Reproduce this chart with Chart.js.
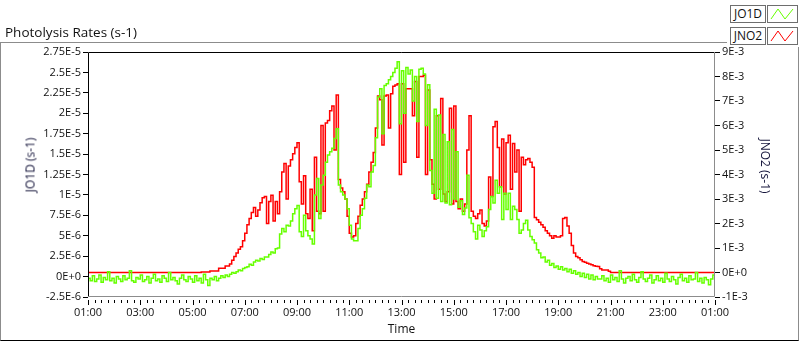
<!DOCTYPE html>
<html>
<head>
<meta charset="utf-8">
<script src="https://cdn.jsdelivr.net/npm/chart.js@4.4.0/dist/chart.umd.min.js"></script>
<style>
    html, body { margin: 0; padding: 0; background: #fff; }
    #wrap { position: relative; width: 800px; height: 342px; overflow: hidden; font-family: 'Open Sans', sans-serif; color: #111; }
    #frame { position: absolute; left: 0; top: 42px; width: 799px; height: 299px; box-sizing: border-box; border: 1px solid #8c8c8c; border-bottom-color: #000; }
    #chart { position: absolute; left: 0; top: 0; }
    #title { position: absolute; left: 5px; top: 23px; font-size: 13.5px; white-space: nowrap; }
    .ytitle { position: absolute; font-size: 12px; white-space: nowrap; color: #14143a; }
    #legend { position: absolute; left: 727px; top: 0; width: 73px; height: 47px; background: #fff; }
    .lbox { position: absolute; height: 18px; box-sizing: border-box; border: 1px solid #6e6e6e; background: #fff; font-size: 12px; line-height: 16px; text-align: center; }
</style>
</head>
<body>
<div id="wrap">
    <div id="frame"></div>
    <canvas id="chart" width="800" height="342"></canvas>
    <div id="title">Photolysis Rates (s-1)</div>
    <div class="ytitle" style="left:30px; top:165px; transform: translate(-50%, -50%) rotate(-90deg);">JO1D (s-1)</div>
    <div class="ytitle" style="left:765px; top:166px; transform: translate(-50%, -50%) rotate(90deg);">JNO2 (s-1)</div>
    <div id="legend">
        <div class="lbox" style="left:3px; top:5px; width:36px;">JO1D</div>
        <div class="lbox" style="left:40px; top:5px; width:31px;">
            <svg width="29" height="16"><polyline points="3,13 10,3 17,13 25,3" fill="none" stroke="#66ff00" stroke-width="1"/></svg>
        </div>
        <div class="lbox" style="left:3px; top:27px; width:36px;">JNO2</div>
        <div class="lbox" style="left:40px; top:27px; width:31px;">
            <svg width="29" height="16"><polyline points="3,13 10,3 17,13 25,3" fill="none" stroke="#ff0000" stroke-width="1"/></svg>
        </div>
    </div>
</div>
<script>
// one sample every 5 minutes, starting at 01:00 and ending at 01:00 the next day
const stepMinutes = 5;

const timeLabels = ['01:00', '03:00', '05:00', '07:00', '09:00', '11:00', '13:00',
    '15:00', '17:00', '19:00', '21:00', '23:00', '01:00'];
const jo1dTicks = ['-2.5E-6', '0E+0', '2.5E-6', '5E-6', '7.5E-6', '1E-5', '1.25E-5',
    '1.5E-5', '1.75E-5', '2E-5', '2.25E-5', '2.5E-5', '2.75E-5'];
const jno2Ticks = ['-1E-3', '0E+0', '1E-3', '2E-3', '3E-3', '4E-3', '5E-3', '6E-3', '7E-3', '8E-3', '9E-3'];

// JO1D in units of 1E-6 s-1, one row per hour
const jo1d = [
    -0.2, -0.5, 0.1, -0.6, -0.3, 0.2, -0.7, -0.1, -0.4, 0.6, -0.5, -0.2,
    -0.8, 0.0, -0.3, -0.6, 0.1, -0.4, -0.2, 0.7, -0.5, -0.7, -0.1, -0.3,
    0.2, -0.6, -0.4, 0.0, -0.8, -0.2, 0.3, -0.5, -0.3, -0.7, 0.1, -0.2,
    -0.6, 0.5, -0.4, -0.1, -0.5, -0.9, -0.2, 0.2, -0.4, -0.6, 0.0, -0.3,
    -0.7, 0.1, -0.5, -0.2, -0.8, 0.3, -0.4, -1.1, -0.2, -0.4, 0.0, -0.5,
    -0.2, 0.1, -0.1, 0.2, 0.0, 0.3, 0.5, 0.4, 0.6, 0.8, 0.7, 1.0,
    1.1, 1.2, 1.5, 1.4, 1.8, 2.0, 1.9, 2.2, 2.1, 2.4, 2.4, 2.7,
    3.0, 2.9, 3.4, 3.5, 5.2, 5.9, 5.5, 6.3, 6.2, 6.8, 7.7, 8.3,
    8.7, 5.5, 4.9, 7.5, 5.6, 5.0, 4.6, 4.0, 10.0, 12.0, 7.1, 11.2,
    12.4, 14.0, 14.9, 15.3, 15.7, 16.9, 18.1, 11.2, 10.4, 10.0, 9.5, 8.3,
    6.3, 4.6, 4.4, 4.4, 5.9, 7.5, 8.3, 9.6, 11.2, 11.0, 12.8, 13.6,
    17.0, 22.0, 23.0, 17.5, 23.4, 23.6, 24.1, 24.5, 25.0, 25.5, 26.3, 18.7,
    25.2, 20.0, 25.6, 24.8, 25.3, 21.5, 24.5, 19.0, 25.4, 25.5, 24.8, 18.5,
    23.5, 13.0, 10.2, 20.5, 9.6, 19.8, 9.2, 17.4, 9.0, 16.5, 8.8, 18.0,
    9.5, 15.3, 8.5, 9.3, 7.6, 8.4, 12.4, 7.2, 6.5, 5.5, 4.6, 6.3,
    5.7, 4.9, 5.6, 6.1, 8.2, 9.8, 9.0, 11.8, 10.2, 11.0, 7.0, 10.2,
    8.2, 10.2, 7.0, 8.6, 8.2, 7.0, 5.3, 5.7, 6.5, 6.9, 5.7, 4.9,
    4.5, 4.1, 3.3, 2.9, 2.3, 2.4, 1.8, 2.0, 1.4, 1.6, 1.1, 1.3,
    0.9, 1.2, 0.8, 1.0, 0.6, 0.9, 0.4, 0.7, 0.3, 0.5, 0.0, 0.4,
    -0.1, 0.3, -0.3, 0.2, -0.4, 0.0, -0.3, -0.3, 0.1, -0.5, -0.2, -0.7,
    0.2, -0.4, -0.1, -0.6, 0.7, -0.3, -0.8, -0.2, 0.0, -0.5, 0.3, -0.4,
    -0.7, -0.1, 0.6, -0.3, -0.6, -0.2, 0.2, -0.8, -0.4, 0.1, -0.5, -0.2,
    -0.7, 0.4, -0.3, -0.6, 0.0, -0.4, -0.9, -0.1, 0.3, -0.5, -0.2, -0.7,
    0.1, -0.4, -0.3, 0.5, -0.6, -0.2, -0.8, -0.1, -0.4, -1.0, -0.3, 0.2,
    -0.5
];

// JNO2 in units of 1E-3 s-1, one row per hour
const jno2 = [
    0, 0, 0, 0, 0, 0, 0, 0, 0, 0, 0, 0,
    0, 0, 0, 0, 0, 0, 0, 0, 0, 0, 0, 0,
    0, 0, 0, 0, 0, 0, 0, 0, 0, 0, 0, 0,
    0, 0, 0, 0, 0, 0, 0, 0, 0, 0, 0, 0,
    0, 0, 0, 0, 0.02, 0.02, 0.02, 0.02, 0.06, 0.06, 0.06, 0.06,
    0.17, 0.17, 0.17, 0.27, 0.27, 0.35, 0.5, 0.65, 0.8, 0.95, 1.05, 1.3,
    1.6, 1.95, 2.2, 2.45, 2.65, 2.3, 2.55, 2.85, 3.05, 3.1, 2.0, 2.9,
    3.15, 2.1, 2.9, 2.4, 3.3, 4.1, 4.45, 3.0, 4.35, 4.6, 4.85, 5.1,
    5.3, 3.7, 2.8, 3.95, 2.4, 2.2, 3.4, 1.7, 4.7, 2.5, 2.4, 6.0,
    2.5, 6.1, 6.2, 6.6, 6.8, 5.0, 7.25, 3.8, 3.45, 3.3, 3.0, 2.3,
    1.6, 1.45, 1.5, 2.0, 2.3, 2.75, 3.0, 3.3, 3.6, 4.1, 4.5, 4.9,
    5.9, 7.2, 7.05, 5.2, 7.2, 7.25, 5.9, 7.3, 7.6, 7.65, 7.7, 4.0,
    7.7, 4.5, 7.5, 7.5, 7.5, 6.4, 7.8, 4.7, 8.0, 8.0, 8.05, 4.0,
    7.45, 4.6, 3.6, 3.0, 6.4, 3.4, 7.1, 3.2, 2.9, 3.3, 6.7, 2.8,
    6.8, 2.9, 2.6, 3.0, 2.5, 2.8, 5.0, 6.4, 2.5, 2.3, 2.2, 2.4,
    2.55, 2.0, 1.9, 2.1, 3.9, 3.1, 5.95, 6.16, 5.1, 3.5, 5.45, 3.2,
    5.3, 5.6, 3.4, 5.27, 4.1, 5.0, 2.5, 4.7, 4.4, 4.6, 4.65, 4.5,
    4.3, 2.25, 2.15, 2.05, 1.95, 1.85, 1.7, 1.6, 1.5, 1.4, 1.5, 1.45,
    1.45, 1.5, 2.2, 2.25, 1.9, 1.6, 1.1, 0.8, 0.65, 0.6, 0.52, 0.45,
    0.42, 0.38, 0.35, 0.32, 0.28, 0.26, 0.24, 0.15, 0.1, 0.1, 0.1, 0.05,
    0, 0, 0, 0, 0, 0, 0, 0, 0, 0, 0, 0,
    0, 0, 0, 0, 0, 0, 0, 0, 0, 0, 0, 0,
    0, 0, 0, 0, 0, 0, 0, 0, 0, 0, 0, 0,
    0, 0, 0, 0, 0, 0, 0, 0, 0, 0, 0, 0,
    0
];

const tickFont = { family: 'Open Sans', size: 11 };
const textColor = '#111';

// hours since 01:00 for each sample
const toPoints = values => values.map((v, i) => ({ x: i * stepMinutes / 60, y: v }));

// plot frame (dark top/left, grey bottom/right) and the x-axis tick marks, 15 min apart
const framePlugin = {
    id: 'frame',
    afterDraw(chart) {
        const { ctx, chartArea: a, scales: { x } } = chart;
        ctx.save();
        ctx.lineWidth = 1;
        ctx.strokeStyle = '#000';
        ctx.beginPath();
        ctx.moveTo(a.left + 0.5, a.bottom);
        ctx.lineTo(a.left + 0.5, a.top + 0.5);
        ctx.lineTo(a.right, a.top + 0.5);
        ctx.stroke();
        ctx.strokeStyle = '#8c8c8c';
        ctx.beginPath();
        ctx.moveTo(a.right - 0.5, a.top);
        ctx.lineTo(a.right - 0.5, a.bottom - 0.5);
        ctx.lineTo(a.left, a.bottom - 0.5);
        ctx.stroke();

        ctx.strokeStyle = '#000';
        ctx.beginPath();
        for (let q = 0; q <= 96; q++) {
            const px = Math.round(x.getPixelForValue(q / 4)) + 0.5;
            const len = q % 8 === 0 ? 5 : 3;
            ctx.moveTo(px, a.bottom + 3);
            ctx.lineTo(px, a.bottom + 3 + len);
        }
        ctx.stroke();
        ctx.restore();
    }
};

new Chart(document.getElementById('chart'), {
    type: 'line',
    data: {
        datasets: [{
            label: 'JO1D',
            data: toPoints(jo1d),
            yAxisID: 'y',
            borderColor: '#66ff00',
            borderWidth: 1.5,
            pointRadius: 0,
            stepped: true,
            order: 0
        }, {
            label: 'JNO2',
            data: toPoints(jno2),
            yAxisID: 'y2',
            borderColor: '#ff0000',
            borderWidth: 1.5,
            pointRadius: 0,
            stepped: true,
            order: 1
        }]
    },
    options: {
        responsive: false,
        animation: false,
        layout: { padding: { top: 52, left: 0, right: 0, bottom: 0 } },
        plugins: {
            legend: { display: false },
            tooltip: { enabled: false }
        },
        scales: {
            x: {
                type: 'linear',
                min: 0,
                max: 24,
                ticks: {
                    stepSize: 2,
                    autoSkip: false,
                    maxRotation: 0,
                    padding: 9,
                    color: textColor,
                    font: tickFont,
                    callback: (v, i) => timeLabels[i]
                },
                grid: { display: false, drawTicks: false },
                border: { display: false },
                title: {
                    display: true,
                    text: 'Time',
                    color: textColor,
                    font: { family: 'Open Sans', size: 12 },
                    padding: { top: 0, bottom: 5 }
                },
                afterFit: s => { s.height = 45; }
            },
            y: {
                position: 'left',
                min: -2.5,
                max: 27.5,
                ticks: {
                    stepSize: 2.5,
                    autoSkip: false,
                    padding: 2,
                    color: textColor,
                    font: tickFont,
                    callback: (v, i) => jo1dTicks[i]
                },
                grid: { drawOnChartArea: false, tickLength: 5, color: '#000' },
                border: { display: false },
                afterFit: s => { s.width = 88; }
            },
            y2: {
                position: 'right',
                min: -1,
                max: 9,
                ticks: {
                    stepSize: 1,
                    autoSkip: false,
                    padding: 2,
                    color: textColor,
                    font: tickFont,
                    callback: (v, i) => jno2Ticks[i]
                },
                grid: { drawOnChartArea: false, tickLength: 5, color: '#000' },
                border: { display: false },
                afterFit: s => { s.width = 85; }
            }
        }
    },
    plugins: [framePlugin]
});
</script>
</body>
</html>
